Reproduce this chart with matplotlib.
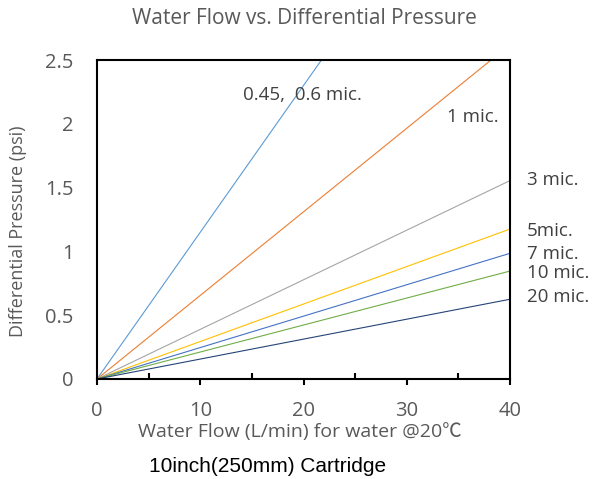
import matplotlib
matplotlib.use("Agg")
import matplotlib.pyplot as plt
from matplotlib.ticker import MultipleLocator

# Data (flow L/min vs differential pressure psi)
flow = [0, 40]
series_names = ["0.45,  0.6 mic.", "1 mic.", "3 mic.", "5mic.", "7 mic.", "10 mic.", "20 mic."]
dp_045 = [0, 4.60]
dp_1 = [0, 2.62]
dp_3 = [0, 1.555]
dp_5 = [0, 1.175]
dp_7 = [0, 0.985]
dp_10 = [0, 0.846]
dp_20 = [0, 0.625]
series = [dp_045, dp_1, dp_3, dp_5, dp_7, dp_10, dp_20]
colors = ["#5B9BD5", "#ED7D31", "#A5A5A5", "#FFC000", "#4472C4", "#70AD47", "#264478"]

label_pos = [(14.1, 2.226), (33.9, 2.053), (41.65, 1.56), (41.65, 1.162),
             (41.65, 0.98), (41.65, 0.83), (41.65, 0.643)]

xticks = [0, 10, 20, 30, 40]
yticks = [0, 0.5, 1, 1.5, 2, 2.5]
yticklabels = ["0", "0.5", "1", "1.5", "2", "2.5"]

W, H = 592, 479
fig = plt.figure(figsize=(W / 100, H / 100), dpi=100)
ax = fig.add_axes([97 / W, 1 - 379 / H, (510 - 97) / W, (379 - 60) / H])

for vals, c in zip(series, colors):
    ax.plot(flow, vals, color=c, lw=0.8)

ax.set_xlim(0, 40)
ax.set_ylim(0, 2.5)
ax.set_xticks(xticks)
ax.set_yticks(yticks)
ax.set_yticklabels(yticklabels)
ax.xaxis.set_minor_locator(MultipleLocator(5))

gray = "#595959"
fnt = "Open Sans"
for s in ax.spines.values():
    s.set_linewidth(1.5)
    s.set_color("black")

ax.tick_params(axis="x", which="major", direction="out", length=4.5, width=1.5,
               pad=11, labelsize=14.5, labelcolor=gray)
ax.tick_params(axis="x", which="minor", direction="in", length=4.5, width=1.5)
ax.tick_params(axis="y", which="major", length=0, pad=17, labelsize=14.5, labelcolor=gray)
for lab in ax.get_xticklabels() + ax.get_yticklabels():
    lab.set_fontfamily(fnt)

for name, (x, y) in zip(series_names, label_pos):
    ax.text(x, y, name, fontsize=13.5, color="#404040", family=fnt,
            ha="left", va="center", clip_on=False)

fig.text(304 / W, 1 - 18 / H, "Water Flow vs. Differential Pressure", fontsize=15,
         color=gray, family=fnt, ha="center", va="center")
fig.text(300 / W, 1 - 432 / H, "Water Flow (L/min) for water @20℃", fontsize=14,
         color=gray, family=[fnt, "Noto Sans CJK SC", "DejaVu Sans"], ha="center", va="center")
fig.text(18 / W, 1 - 231 / H, "Differential Pressure (psi)", fontsize=13,
         color=gray, family=fnt, ha="center", va="center", rotation=90)
fig.text(268 / W, 1 - 466 / H, "10inch(250mm) Cartridge", fontsize=15,
         color="black", family="Liberation Sans", ha="center", va="center")

fig.savefig("out.png", dpi=100)
